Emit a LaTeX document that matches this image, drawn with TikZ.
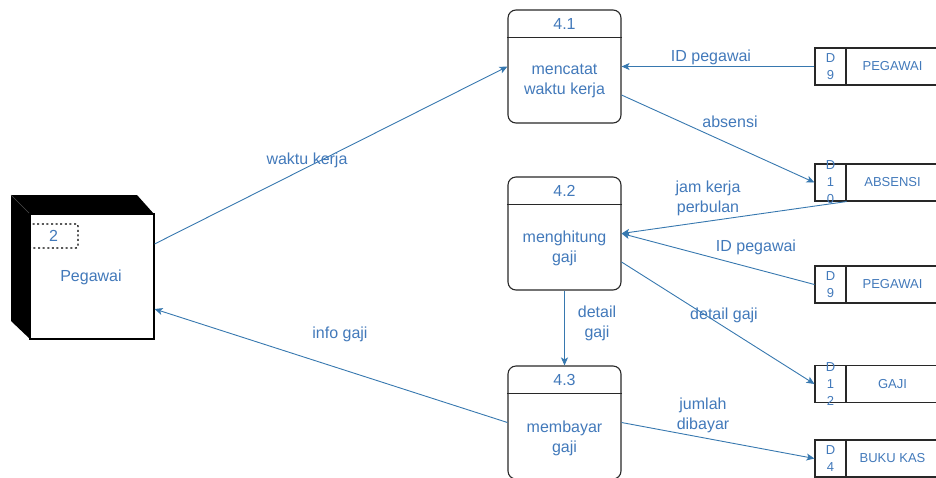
\documentclass[tikz,border=0pt]{standalone}
\usepackage{fontspec}
\setmainfont{Liberation Sans}
\usetikzlibrary{arrows.meta,calc}
\definecolor{txtblue}{RGB}{66,121,186}
\definecolor{lineblue}{RGB}{55,120,175}
\definecolor{boxgray}{RGB}{40,40,40}
\begin{document}
\begin{tikzpicture}[x=1pt,y=-1pt,
  proc/.style={draw=boxgray, line width=1.1pt, rounded corners=8pt,
    minimum width=113pt, minimum height=113pt, inner sep=0pt},
  ptxt/.style={text=txtblue, font=\fontsize{16}{20}\selectfont, align=center, inner sep=0pt},
  store/.style={draw=boxgray, line width=1.1pt, minimum width=124pt,
    minimum height=37pt, inner sep=0pt},
  cell/.style={draw=boxgray, line width=1.1pt, minimum width=31pt,
    minimum height=37pt, inner sep=0pt},
  celltxt/.style={text=txtblue, font=\fontsize{13}{17}\selectfont,
    align=center, inner sep=0pt},
  stxt/.style={text=txtblue, font=\fontsize{13}{16}\selectfont, inner sep=0pt},
  flow/.style={draw=lineblue, line width=0.9pt,
    -{Stealth[length=8pt,width=7pt,inset=2pt]}},
  lbl/.style={text=txtblue, font=\fontsize{16}{20}\selectfont, align=center, inner sep=0pt},
  hline/.style={draw=boxgray, line width=1.1pt}]
\useasboundingbox (0,0) rectangle (936,477);
\clip (0,0) rectangle (936,477);

% external entity: 3D box
\fill[black] (11,195) -- (137,195) -- (154,214) -- (30,214) -- (30,339) -- (11,321) -- cycle;
\draw[black!70, line width=0.6pt] (11,195) -- (30,214);
\node[draw=black, line width=1.1pt, fill=white, minimum width=124pt,
  minimum height=125pt, inner sep=0pt] (ent) at (92,276.5) {};
\node[draw=black, line width=1.3pt, dash pattern=on 2pt off 2.6pt, rounded corners=2pt,
  minimum width=49pt, minimum height=24pt, inner sep=0pt, text=txtblue,
  font=\fontsize{16}{20}\selectfont] (entnum) at (53.5,236) {2};
\node[ptxt] (entname) at (91,277) {Pegawai};

% processes
\node[proc] (p41) at (564.5,66.5) {};
\draw[hline] ($(p41.north west)+(0,28)$) -- ($(p41.north east)+(0,28)$);
\node[ptxt] (h41) at (564.5,24) {4.1};
\node[ptxt] (b41) at (564.5,81) {mencatat\\waktu kerja};

\node[proc] (p42) at (564.5,233.5) {};
\draw[hline] ($(p42.north west)+(0,28)$) -- ($(p42.north east)+(0,28)$);
\node[ptxt] (h42) at (564.5,191) {4.2};
\node[ptxt] (b42) at (564.5,248) {menghitung\\gaji};

\node[proc] (p43) at (564.5,422.5) {};
\draw[hline] ($(p43.north west)+(0,28)$) -- ($(p43.north east)+(0,28)$);
\node[ptxt] (h43) at (564.5,380) {4.3};
\node[ptxt] (b43) at (564.5,438) {membayar\\gaji};

% data stores
\node[store] (s1) at (877,66.5) {};
\node[cell] (c1) at (830.5,66.5) {};
\node[celltxt] (c1t) at (c1) {D\\9};
\node[stxt] (t1) at (892.5,66.5) {PEGAWAI};

\node[store] (s2) at (877,182.5) {};
\node[cell] (c2) at (830.5,182.5) {};
\node[celltxt] (c2t) at (c2) {D\\1\\0};
\node[stxt] (t2) at (892.5,182.5) {ABSENSI};

\node[store] (s3) at (877,284.5) {};
\node[cell] (c3) at (830.5,284.5) {};
\node[celltxt] (c3t) at (c3) {D\\9};
\node[stxt] (t3) at (892.5,284.5) {PEGAWAI};

\node[store] (s4) at (877,384) {};
\node[cell] (c4) at (830.5,384) {};
\node[celltxt] (c4t) at (c4) {D\\1\\2};
\node[stxt] (t4) at (892.5,384) {GAJI};

\node[store] (s5) at (877,458.5) {};
\node[cell] (c5) at (830.5,458.5) {};
\node[celltxt] (c5t) at (c5) {D\\4};
\node[stxt] (t5) at (892.5,458.5) {BUKU KAS};

% data flows
\draw[flow] ([yshift=32.5pt]ent.east) -- (p41.west);
\draw[flow] (s1.west) -- (p41.east);
\draw[flow] ([yshift=-28.5pt]p41.east) -- (s2.west);
\draw[flow] (c2.south east) -- (p42.east);
\draw[flow] (s3.west) -- (p42.east);
\draw[flow] ([yshift=-28.5pt]p42.east) -- (s4.west);
\draw[flow] (p42.south) -- (p43.north);
\draw[flow] (p43.east) -- (s5.west);
\draw[flow] (p43.west) -- ([yshift=-32.5pt]ent.east);

% flow labels
\node[lbl] (l1) at (307,160) {waktu kerja};
\node[lbl] (l2) at (711,57) {ID pegawai};
\node[lbl] (l3) at (730,122) {absensi};
\node[lbl] (l4) at (708,198) {jam kerja\\perbulan};
\node[lbl] (l5) at (756,247) {ID pegawai};
\node[lbl] (l6) at (724,315) {detail gaji};
\node[lbl] (l7) at (597,323) {detail\\gaji};
\node[lbl] (l8) at (703,415) {jumlah\\dibayar};
\node[lbl] (l9) at (340,334) {info gaji};
\end{tikzpicture}
\end{document}
